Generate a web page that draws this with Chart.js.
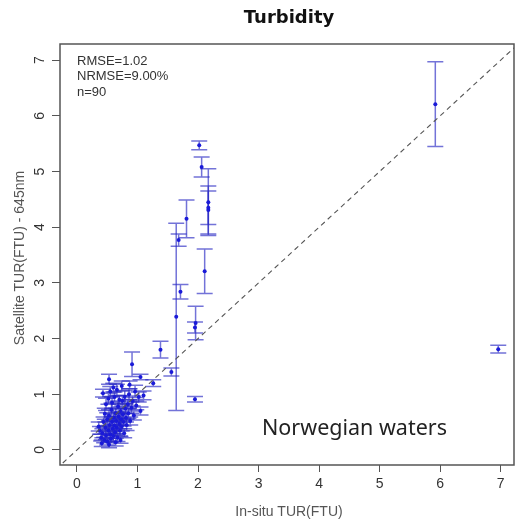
<!DOCTYPE html>
<html>
<head>
<meta charset="utf-8">
<script src="https://cdn.jsdelivr.net/npm/chart.js@4.4.1/dist/chart.umd.min.js"></script>
<style>
  body { margin: 0; background: #fff; }
  #wrap { width: 518px; height: 524px; position: relative; }
</style>
</head>
<body>
<div id="wrap"><canvas id="cnv"></canvas></div>
<script>
// in-situ turbidity (FTU), satellite turbidity (FTU) and its +/- error
const insituTur = [
  5.92, 6.96, 2.02, 2.06, 2.17, 2.17, 2.17, 1.81, 1.68, 1.64,
  1.71, 2.11, 1.96, 1.95, 1.38, 1.56, 1.95, 1.26, 0.91, 1.05,
  0.53, 0.87, 0.43,
  0.40, 0.42, 0.45, 0.47, 0.48, 0.50, 0.50, 0.52, 0.53, 0.54,
  0.55, 0.56, 0.57, 0.58, 0.59, 0.60, 0.61, 0.62, 0.63, 0.64,
  0.65, 0.66, 0.67, 0.68, 0.69, 0.70, 0.71, 0.72, 0.73, 0.74,
  0.75, 0.76, 0.77, 0.78, 0.79, 0.80, 0.81, 0.82, 0.84, 0.85,
  0.86, 0.88, 0.90, 0.92, 0.94, 0.96, 0.98, 1.02, 1.05, 1.10,
  0.44, 0.46, 0.48, 0.52, 0.55, 0.58, 0.60, 0.62, 0.66, 0.70,
  0.38, 0.41, 0.53, 0.64, 0.72, 0.36, 0.74
];
const satTur = [
  6.21, 1.81, 5.47, 5.08, 4.45, 4.35, 4.31, 4.15, 3.77, 2.39,
  2.84, 3.21, 2.28, 2.20, 1.80, 1.40, 0.91, 1.20, 1.54, 1.31,
  1.27, 1.17, 1.02,
  0.22, 0.30, 0.18, 0.40, 0.26, 0.55, 0.15, 0.35, 0.62, 0.45,
  0.28, 0.20, 0.72, 0.50, 0.38, 0.25, 0.58, 0.44, 0.32, 0.66,
  0.52, 0.40, 0.22, 0.78, 0.60, 0.47, 0.35, 0.70, 0.55, 0.42,
  0.88, 0.64, 0.50, 0.30, 0.95, 0.74, 0.58, 0.45, 0.82, 0.66,
  1.00, 0.52, 0.76, 0.88, 0.62, 1.05, 0.80, 0.95, 0.70, 0.98,
  0.50, 0.65, 0.82, 0.92, 1.05, 0.85, 1.12, 0.95, 1.08, 0.90,
  0.35, 0.12, 0.10, 0.14, 0.18, 0.42, 1.15
];
const satErr = [
  0.76, 0.07, 0.08, 0.18, 0.60, 0.30, 0.43, 0.34, 0.11, 1.68,
  0.13, 0.40, 0.30, 0.10, 0.15, 0.07, 0.05, 0.06, 0.22, 0.05,
  0.09, 0.07, 0.07,
  0.06, 0.08, 0.05, 0.10, 0.07, 0.12, 0.06, 0.09, 0.10, 0.08,
  0.07, 0.06, 0.12, 0.09, 0.08, 0.10, 0.07, 0.11, 0.06, 0.09,
  0.08, 0.12, 0.07, 0.10, 0.08, 0.09, 0.10, 0.07, 0.11, 0.08,
  0.09, 0.10, 0.07, 0.08, 0.12, 0.09, 0.08, 0.10, 0.08, 0.09,
  0.10, 0.07, 0.10, 0.09, 0.08, 0.11, 0.08, 0.09, 0.07, 0.08,
  0.09, 0.10, 0.11, 0.10, 0.09, 0.10, 0.08, 0.09, 0.10, 0.08,
  0.07, 0.06, 0.06, 0.07, 0.06, 0.08, 0.09
];
const statLines = ["RMSE=1.02", "NRMSE=9.00%", "n=90"];
const xRange = [-0.28, 7.22];
const yRange = [-0.27, 7.29];

let pts = insituTur.map((v, i) => ({x: v, y: satTur[i]}));

const errorBars = {
  id: 'errorBars',
  beforeDatasetsDraw(chart) {
    const {ctx, chartArea, scales: {x, y}} = chart;
    ctx.save();
    ctx.beginPath();
    ctx.rect(chartArea.left, chartArea.top, chartArea.width, chartArea.height);
    ctx.clip();
    ctx.strokeStyle = 'rgba(40,40,195,0.65)';
    ctx.lineWidth = 1.5;
    insituTur.forEach((xv, i) => {
      let px = x.getPixelForValue(xv);
      let lo = y.getPixelForValue(satTur[i] - satErr[i]);
      let hi = y.getPixelForValue(satTur[i] + satErr[i]);
      ctx.beginPath();
      ctx.moveTo(px, lo); ctx.lineTo(px, hi);
      ctx.moveTo(px - 8, lo); ctx.lineTo(px + 8, lo);
      ctx.moveTo(px - 8, hi); ctx.lineTo(px + 8, hi);
      ctx.stroke();
    });
    ctx.restore();
  }
};

const decor = {
  id: 'decor',
  afterDraw(chart) {
    const {ctx, chartArea: a, scales: {x, y}} = chart;
    ctx.save();
    // box
    ctx.strokeStyle = '#555';
    ctx.lineWidth = 1.5;
    ctx.strokeRect(a.left, a.top, a.right - a.left, a.bottom - a.top);
    // tick labels, y ones rotated like R
    ctx.fillStyle = '#333';
    ctx.font = '14px "Liberation Sans", Arial, sans-serif';
    ctx.textAlign = 'center';
    ctx.textBaseline = 'middle';
    x.ticks.forEach(t => {
      ctx.fillText(String(t.value), x.getPixelForValue(t.value), 484);
    });
    y.ticks.forEach(t => {
      ctx.save();
      ctx.translate(40, y.getPixelForValue(t.value));
      ctx.rotate(-Math.PI / 2);
      ctx.fillText(String(t.value), 0, 0);
      ctx.restore();
    });
    // title
    ctx.fillStyle = '#111';
    ctx.font = 'bold 18px "DejaVu Sans", sans-serif';
    ctx.fillText('Turbidity', 289, 18);
    // axis titles
    ctx.fillStyle = '#555';
    ctx.font = '14px "Liberation Sans", Arial, sans-serif';
    ctx.fillText('In-situ TUR(FTU)', 289, 512);
    ctx.save();
    ctx.translate(20, 258);
    ctx.rotate(-Math.PI / 2);
    ctx.fillText('Satellite TUR(FTU) - 645nm', 0, 0);
    ctx.restore();
    // stats
    ctx.fillStyle = '#333';
    ctx.font = '13px "Liberation Sans", Arial, sans-serif';
    ctx.textAlign = 'left';
    statLines.forEach((s, i) => ctx.fillText(s, 77, 61 + i * 15.5));
    // region label
    ctx.fillStyle = '#222';
    ctx.font = '21.5px "Noto Sans", sans-serif';
    ctx.fillText('Norwegian waters', 262, 429);
    ctx.restore();
  }
};

new Chart(document.getElementById('cnv'), {
  type: 'scatter',
  data: {
    datasets: [
      {
        type: 'line',
        data: [{x: -1, y: -1}, {x: 8, y: 8}],
        borderColor: '#555',
        borderWidth: 1.1,
        borderDash: [5, 4],
        pointRadius: 0
      },
      {
        data: pts,
        backgroundColor: '#1a1ad8',
        borderColor: '#1a1ad8',
        pointRadius: 2,
        borderWidth: 0
      }
    ]
  },
  options: {
    responsive: true,
    maintainAspectRatio: false,
    animation: false,
    devicePixelRatio: 1,
    layout: { padding: { left: 0, right: 1, top: 44, bottom: 0 } },
    plugins: { legend: { display: false }, tooltip: { enabled: false } },
    scales: {
      x: {
        type: 'linear',
        min: xRange[0], max: xRange[1],
        ticks: { stepSize: 1, includeBounds: false, display: false },
        grid: { drawOnChartArea: false, drawTicks: true, tickLength: 7, color: '#555', lineWidth: 1 },
        border: { display: false },
        afterFit(s) { s.height = 59; }
      },
      y: {
        type: 'linear',
        min: yRange[0], max: yRange[1],
        ticks: { stepSize: 1, includeBounds: false, display: false },
        grid: { drawOnChartArea: false, drawTicks: true, tickLength: 8, color: '#555', lineWidth: 1 },
        border: { display: false },
        afterFit(s) { s.width = 60; }
      }
    }
  },
  plugins: [errorBars, decor]
});
</script>
</body>
</html>
